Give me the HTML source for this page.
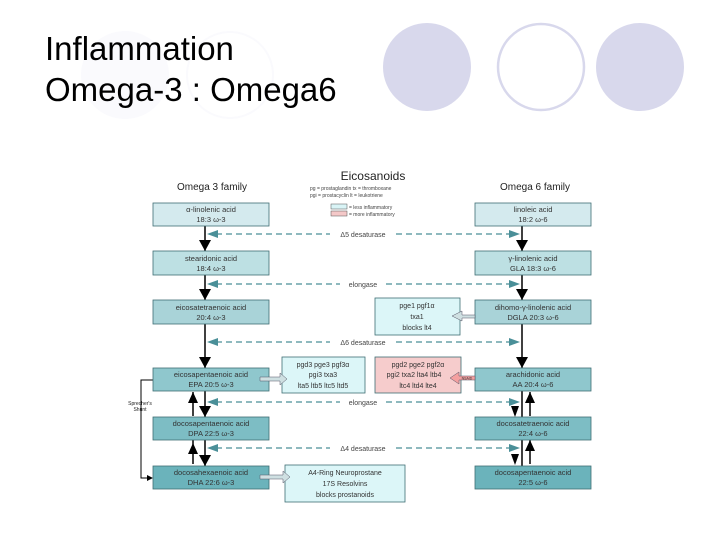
<!DOCTYPE html>
<html><head><meta charset="utf-8"><style>
html,body{margin:0;padding:0;background:#fff;}
svg{display:block;font-family:"Liberation Sans",sans-serif;}
</style></head><body>
<svg width="720" height="540" viewBox="0 0 720 540" xmlns="http://www.w3.org/2000/svg">
<circle cx="427" cy="67" r="44" fill="#d8d8ec"/>
<circle cx="541" cy="67" r="43" fill="none" stroke="#d8d8ec" stroke-width="2.5"/>
<circle cx="640" cy="67" r="44" fill="#d8d8ec"/>
<circle cx="125" cy="75" r="44" fill="#fafafd"/>
<circle cx="230" cy="75" r="43" fill="none" stroke="#fafafd" stroke-width="2"/>
<text x="45" y="60" font-size="33" fill="#000">Inflammation</text>
<text x="45" y="101" font-size="33" fill="#000">Omega-3 : Omega6</text>

<text x="373" y="180" font-size="12" text-anchor="middle" fill="#222">Eicosanoids</text>
<text x="212" y="190" font-size="10" text-anchor="middle" fill="#222">Omega 3 family</text>
<text x="535" y="190" font-size="10" text-anchor="middle" fill="#222">Omega 6 family</text>
<text x="310" y="190" font-size="5" fill="#444">pg = prostaglandin     tx = thromboxane</text>
<text x="310" y="197" font-size="5" fill="#444">pgi = prostacyclin      lt = leukotriene</text>
<rect x="331" y="204" width="16" height="5" fill="#d9f4f6" stroke="#555" stroke-width="0.5"/>
<rect x="331" y="211" width="16" height="5" fill="#f4c8c8" stroke="#555" stroke-width="0.5"/>
<text x="349" y="209" font-size="5" fill="#444">= less inflammatory</text>
<text x="349" y="216" font-size="5" fill="#444">= more inflammatory</text>

<line x1="205" y1="226" x2="205" y2="466" stroke="#000" stroke-width="1.5"/>
<line x1="522" y1="226" x2="522" y2="466" stroke="#000" stroke-width="1.5"/>
<g fill="#000">
<polygon points="199,240 211,240 205,251"/><polygon points="199,289 211,289 205,300"/>
<polygon points="199,357 211,357 205,368"/><polygon points="199,406 211,406 205,417"/><polygon points="199,455 211,455 205,466"/>
<polygon points="516,240 528,240 522,251"/>
<polygon points="516,289 528,289 522,300"/><polygon points="516,357 528,357 522,368"/>
<polygon points="188,403 198,403 193,392"/>
<polygon points="188,454 198,454 193,443"/>
<polygon points="511,406 519,406 515,417"/><polygon points="511,454 519,454 515,465"/>
<polygon points="525,403 535,403 530,392"/><polygon points="525,451 535,451 530,440"/>
</g>
<line x1="193" y1="392" x2="193" y2="416" stroke="#000" stroke-width="1.5"/>
<line x1="193" y1="440" x2="193" y2="464" stroke="#000" stroke-width="1.5"/>
<line x1="530" y1="392" x2="530" y2="416" stroke="#000" stroke-width="1.5"/>
<line x1="530" y1="440" x2="530" y2="464" stroke="#000" stroke-width="1.5"/>
<polyline points="153,380 141,380 141,478 150,478" fill="none" stroke="#000" stroke-width="1"/>
<polygon points="147,475 153,478 147,481" fill="#000"/>
<text x="140" y="405" font-size="5" text-anchor="middle" fill="#222">Sprecher's</text>
<text x="140" y="411" font-size="5" text-anchor="middle" fill="#222">Shunt</text>

<g stroke="#4a8f98" stroke-width="1.2" stroke-dasharray="6,4" fill="none">
<line x1="216" y1="234" x2="510" y2="234"/><line x1="216" y1="284" x2="510" y2="284"/>
<line x1="216" y1="342" x2="510" y2="342"/><line x1="216" y1="402" x2="510" y2="402"/>
<line x1="216" y1="448" x2="510" y2="448"/>
</g>
<g fill="#4a8f98">
<polygon points="207,234 218,230 218,238"/><polygon points="520,234 509,230 509,238"/>
<polygon points="207,284 218,280 218,288"/><polygon points="520,284 509,280 509,288"/>
<polygon points="207,342 218,338 218,346"/><polygon points="520,342 509,338 509,346"/>
<polygon points="207,402 218,398 218,406"/><polygon points="520,402 509,398 509,406"/>
<polygon points="207,448 218,444 218,452"/><polygon points="520,448 509,444 509,452"/>
</g>
<g font-size="7" fill="#444" text-anchor="middle">
<rect x="330" y="229" width="66" height="10" fill="#fff"/><text x="363" y="237">Δ5 desaturase</text>
<rect x="340" y="279" width="46" height="10" fill="#fff"/><text x="363" y="287">elongase</text>
<rect x="330" y="337" width="66" height="10" fill="#fff"/><text x="363" y="345">Δ6 desaturase</text>
<rect x="340" y="397" width="46" height="10" fill="#fff"/><text x="363" y="405">elongase</text>
<rect x="330" y="443" width="66" height="10" fill="#fff"/><text x="363" y="451">Δ4 desaturase</text>
</g>

<g stroke="#3f6e74" stroke-width="0.8">
<rect x="153" y="203" width="116" height="23" fill="#d4eaee"/>
<rect x="475" y="203" width="116" height="23" fill="#d4eaee"/>
<rect x="153" y="251" width="116" height="24" fill="#bde0e3"/>
<rect x="475" y="251" width="116" height="24" fill="#bde0e3"/>
<rect x="153" y="300" width="116" height="24" fill="#a9d3d8"/>
<rect x="475" y="300" width="116" height="24" fill="#a9d3d8"/>
<rect x="153" y="368" width="116" height="23" fill="#8fc7cd"/>
<rect x="475" y="368" width="116" height="23" fill="#8fc7cd"/>
<rect x="153" y="417" width="116" height="23" fill="#7dbdc4"/>
<rect x="475" y="417" width="116" height="23" fill="#7dbdc4"/>
<rect x="153" y="466" width="116" height="23" fill="#6bb3bb"/>
<rect x="475" y="466" width="116" height="23" fill="#6bb3bb"/>
<rect x="375" y="298" width="85" height="37" fill="#dcf6f8"/>
<rect x="282" y="357" width="83" height="36" fill="#dcf6f8"/>
<rect x="375" y="357" width="86" height="36" fill="#f6cccc"/>
<rect x="285" y="465" width="120" height="37" fill="#dcf6f8"/>
</g>
<g font-size="7.5" text-anchor="middle" fill="#333">
<text x="211" y="212">α-linolenic acid</text><text x="211" y="222">18:3 ω-3</text>
<text x="533" y="212">linoleic acid</text><text x="533" y="222">18:2 ω-6</text>
<text x="211" y="261">stearidonic acid</text><text x="211" y="271">18:4 ω-3</text>
<text x="533" y="261">γ-linolenic acid</text><text x="533" y="271">GLA  18:3 ω-6</text>
<text x="211" y="310">eicosatetraenoic acid</text><text x="211" y="320">20:4 ω-3</text>
<text x="533" y="310">dihomo-γ-linolenic acid</text><text x="533" y="320">DGLA  20:3 ω-6</text>
<text x="211" y="377">eicosapentaenoic acid</text><text x="211" y="387">EPA  20:5 ω-3</text>
<text x="533" y="377">arachidonic acid</text><text x="533" y="387">AA  20:4 ω-6</text>
<text x="211" y="426">docosapentaenoic acid</text><text x="211" y="436">DPA  22:5 ω-3</text>
<text x="533" y="426">docosatetraenoic acid</text><text x="533" y="436">22:4 ω-6</text>
<text x="211" y="475">docosahexaenoic acid</text><text x="211" y="485">DHA  22:6 ω-3</text>
<text x="533" y="475">docosapentaenoic acid</text><text x="533" y="485">22:5 ω-6</text>
<text x="417" y="308" font-size="7">pge1 pgf1α</text><text x="417" y="319" font-size="7">txa1</text><text x="417" y="330" font-size="7">blocks lt4</text>
<text x="323" y="367" font-size="7">pgd3 pge3 pgf3α</text><text x="323" y="377" font-size="7">pgi3 txa3</text><text x="323" y="388" font-size="7">lta5 ltb5 ltc5 ltd5</text>
<text x="418" y="367" font-size="7">pgd2 pge2 pgf2α</text><text x="414" y="377" font-size="7">pgi2 txa2 lta4 ltb4</text><text x="418" y="388" font-size="7">ltc4 ltd4 lte4</text>
<text x="345" y="475" font-size="7">A4-Ring Neuroprostane</text><text x="345" y="486" font-size="7">17S Resolvins</text><text x="345" y="497" font-size="7">blocks prostanoids</text>
</g>
<polygon points="475,315 462,315 462,311 452,316 462,321 462,318 475,318" fill="#cfe0e2" stroke="#556" stroke-width="0.5"/>
<polygon points="475,376 459,376 459,372 450,378 459,384 459,380 475,380" fill="#f4a0a0" stroke="#556" stroke-width="0.5"/>
<text x="467" y="379.5" font-size="3.5" fill="#333" text-anchor="middle">NSAID</text>
<polygon points="260,377 280,377 280,373 287,379 280,385 280,381 260,381" fill="#cfe0e2" stroke="#556" stroke-width="0.5"/>
<polygon points="260,475 283,475 283,471 290,477 283,483 283,479 260,479" fill="#cfe0e2" stroke="#556" stroke-width="0.5"/>
</svg>
</body></html>
